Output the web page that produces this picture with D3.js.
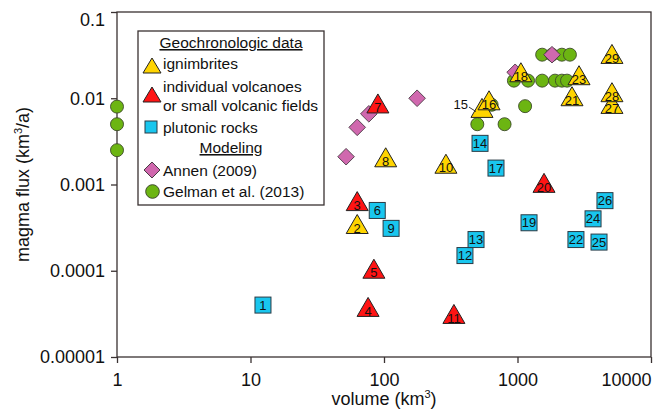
<!DOCTYPE html>
<html>
<head>
<meta charset="utf-8">
<script src="https://cdn.jsdelivr.net/npm/d3@7"></script>
<style>
	body { margin: 0 ; background: #fff ; }
	svg { display: block ; font-family: "Liberation Sans", Arial, Helvetica, sans-serif ; }
	.axis text { font-size: 18px ; fill: #111 ; }
	.axis line { stroke: #3a3232 ; stroke-width: 1.3 ; }
</style>
</head>
<body>
<svg id="chart" width="653" height="418"></svg>
<script>

// ticks
const xTicks = [ 1, 10, 100, 1000, 10000 ] ;
const xTickLabels = [ "1", "10", "100", "1000", "10000" ] ;
const yTicks = [ 0.00001, 0.0001, 0.001, 0.01, 0.1 ] ;
const yTickLabels = [ "0.00001", "0.0001", "0.001", "0.01", "0.1" ] ;

// geochronologic data : [ number, volume km3, flux km3/a ]
const ignimbrites = [
	[ 2, 63, 0.00032 ],
	[ 8, 103, 0.0019 ],
	[ 10, 291, 0.0016 ],
	[ 15, 542, 0.0071 ],
	[ 16, 612, 0.0087 ],
	[ 18, 1060, 0.0184 ],
	[ 21, 2560, 0.0097 ],
	[ 23, 2890, 0.017 ],
	[ 27, 5100, 0.0079 ],
	[ 28, 5100, 0.0108 ],
	[ 29, 5100, 0.030 ]
] ;
const volcanoes = [
	[ 3, 63, 0.00059 ],
	[ 4, 76, 0.000035 ],
	[ 5, 84, 0.000097 ],
	[ 7, 90, 0.008 ],
	[ 11, 334, 0.000029 ],
	[ 20, 1580, 0.00096 ]
] ;
const plutonic = [
	[ 1, 12.4, 0.00004 ],
	[ 6, 89, 0.0005 ],
	[ 9, 113, 0.00031 ],
	[ 12, 404, 0.00015 ],
	[ 13, 489, 0.00023 ],
	[ 14, 524, 0.003 ],
	[ 17, 690, 0.00155 ],
	[ 19, 1220, 0.00036 ],
	[ 22, 2740, 0.00023 ],
	[ 24, 3680, 0.0004 ],
	[ 25, 4080, 0.000215 ],
	[ 26, 4520, 0.00065 ]
] ;

// modeling : [ volume, flux ]
const annen = [
	[ 52, 0.0021 ], [ 63, 0.0046 ], [ 77, 0.0066 ], [ 177, 0.01 ],
	[ 960, 0.02 ], [ 1813, 0.032 ]
] ;
const gelman = [
	[ 1, 0.008 ], [ 1, 0.005 ], [ 1, 0.0025 ],
	[ 500, 0.005 ], [ 800, 0.005 ], [ 640, 0.0084 ], [ 1140, 0.0081 ],
	[ 940, 0.016 ], [ 1200, 0.016 ], [ 1530, 0.016 ], [ 1910, 0.016 ], [ 2150, 0.016 ], [ 2350, 0.016 ],
	[ 1530, 0.032 ], [ 1813, 0.032 ], [ 2150, 0.032 ], [ 2470, 0.032 ]
] ;

const colors = {
	ign: "#ffd400",
	volc: "#ff1414",
	plut: "#19c6ee",
	annen: "#d068ae",
	gelman: "#6cb512"
} ;
const edge = "#3a3232" ;

const svg = d3.select( "#chart" ) ;
const mLeft = 117, mRight = 651, mTop = 12, mBottom = 357 ;

const x = d3.scaleLog().domain( [ 1, 10000 ] ).range( [ mLeft, mRight ] ) ;
const y = d3.scaleLog().domain( [ 0.00001, 0.1 ] ).range( [ mBottom, mTop ] ) ;

// frame
svg.append( "rect" )
	.attr( "x", mLeft ).attr( "y", mTop )
	.attr( "width", mRight-mLeft ).attr( "height", mBottom-mTop )
	.attr( "fill", "none" )
	.attr( "stroke", edge )
	.attr( "stroke-width", 1.3 ) ;

const xAxis = svg.append( "g" )
	.attr( "class", "axis" )
	.attr( "transform", "translate(0," + mBottom + ")" )
	.call( d3.axisBottom( x ).tickValues( xTicks )
		.tickFormat( function(d,i) { return xTickLabels[i] ; } )
		.tickSize( 6 ).tickPadding( 10 ) ) ;
xAxis.select( ".domain" ).remove() ;
xAxis.selectAll( ".tick text" )
	.attr( "text-anchor", function(d,i) { return i===xTicks.length-1 ? "end" : "middle" ; } ) ;

const yAxis = svg.append( "g" )
	.attr( "class", "axis" )
	.attr( "transform", "translate(" + mLeft + ",0)" )
	.call( d3.axisLeft( y ).tickValues( yTicks )
		.tickFormat( function(d,i) { return yTickLabels[i] ; } )
		.tickSize( 6 ).tickPadding( 6 ) ) ;
yAxis.select( ".domain" ).remove() ;
// top label sits below its tick in the original
yAxis.selectAll( ".tick text" )
	.filter( function(d) { return d === 0.1 ; } )
	.attr( "dy", "0.74em" ) ;

// axis titles
const xTitle = svg.append( "text" )
	.attr( "x", (mLeft+mRight)/2 ).attr( "y", 405 )
	.attr( "text-anchor", "middle" )
	.style( "font-size", "18px" ).attr( "fill", "#111" ) ;
xTitle.append( "tspan" ).text( "volume (km" ) ;
xTitle.append( "tspan" ).attr( "dy", -7 ).style( "font-size", "11px" ).text( "3" ) ;
xTitle.append( "tspan" ).attr( "dy", 7 ).text( ")" ) ;

const yTitle = svg.append( "text" )
	.attr( "transform", "translate(29," + ((mTop+mBottom)/2) + ") rotate(-90)" )
	.attr( "text-anchor", "middle" )
	.style( "font-size", "18px" ).attr( "fill", "#111" ) ;
yTitle.append( "tspan" ).text( "magma flux (km" ) ;
yTitle.append( "tspan" ).attr( "dy", -7 ).style( "font-size", "11px" ).text( "3" ) ;
yTitle.append( "tspan" ).attr( "dy", 7 ).text( "/a)" ) ;

/*
	marker shapes
*/
function triPath( w, h ) {
	// centroid at origin
	return "M0," + (-h*2/3) + "L" + (w/2) + "," + (h/3) + "L" + (-w/2) + "," + (h/3) + "Z" ;
}
function diamondPath( r ) {
	return "M0," + (-r) + "L" + r + ",0L0," + r + "L" + (-r) + ",0Z" ;
}

const plot = svg.append( "g" ) ;

plot.selectAll( "circle.gelman" )
	.data( gelman )
	.enter().append( "circle" )
		.attr( "class", "gelman" )
		.attr( "cx", function(d) { return x(d[0]) ; } )
		.attr( "cy", function(d) { return y(d[1]) ; } )
		.attr( "r", 6.5 )
		.attr( "fill", colors.gelman )
		.attr( "stroke", "#3d4a2a" )
		.attr( "stroke-width", 0.9 ) ;

plot.selectAll( "path.annen" )
	.data( annen )
	.enter().append( "path" )
		.attr( "class", "annen" )
		.attr( "d", diamondPath( 8.3 ) )
		.attr( "transform", function(d) { return "translate(" + x(d[0]) + "," + y(d[1]) + ")" ; } )
		.attr( "fill", colors.annen )
		.attr( "stroke", "#4a3a44" )
		.attr( "stroke-width", 0.9 ) ;

// triangles drawn in number order so later ones sit on top
const triangles = ignimbrites.map( function(d) { return { n: d[0], v: d[1], f: d[2], c: colors.ign } ; } )
	.concat( volcanoes.map( function(d) { return { n: d[0], v: d[1], f: d[2], c: colors.volc } ; } ) )
	.sort( function(a,b) { return a.n - b.n ; } ) ;

const tri = plot.selectAll( "g.tri" )
	.data( triangles )
	.enter().append( "g" )
		.attr( "class", "tri" )
		.attr( "transform", function(d) { return "translate(" + x(d.v) + "," + y(d.f) + ")" ; } ) ;
tri.append( "path" )
	.attr( "d", triPath( 22, 19 ) )
	.attr( "fill", function(d) { return d.c ; } )
	.attr( "stroke", "#222" )
	.attr( "stroke-width", 1 ) ;
tri.append( "text" )
	.attr( "text-anchor", "middle" )
	.attr( "y", 5.5 )
	.style( "font-size", "13px" )
	.attr( "fill", "#111" )
	.text( function(d) { return d.n === 15 ? "" : d.n ; } ) ;

// label 15 sits outside with a leader line
const t15 = triangles.filter( function(d) { return d.n === 15 ; } )[0] ;
plot.append( "line" )
	.attr( "x1", x(t15.v) - 13 ).attr( "y1", y(t15.f) - 4 )
	.attr( "x2", x(t15.v) - 6 ).attr( "y2", y(t15.f) + 0.5 )
	.attr( "stroke", "#222" ).attr( "stroke-width", 0.9 ) ;
plot.append( "text" )
	.attr( "x", x(t15.v) - 14 ).attr( "y", y(t15.f) - 2 )
	.attr( "text-anchor", "end" )
	.style( "font-size", "13px" )
	.attr( "fill", "#111" )
	.text( "15" ) ;

const sq = plot.selectAll( "g.sq" )
	.data( plutonic )
	.enter().append( "g" )
		.attr( "class", "sq" )
		.attr( "transform", function(d) { return "translate(" + x(d[1]) + "," + y(d[2]) + ")" ; } ) ;
sq.append( "rect" )
	.attr( "x", -8 ).attr( "y", -8 )
	.attr( "width", 16 ).attr( "height", 16 )
	.attr( "fill", colors.plut )
	.attr( "stroke", "#2a3a44" )
	.attr( "stroke-width", 1 ) ;
sq.append( "text" )
	.attr( "text-anchor", "middle" )
	.attr( "y", 4.5 )
	.style( "font-size", "13px" )
	.attr( "fill", "#111" )
	.text( function(d) { return d[0] ; } ) ;

/*
	legend
*/
const lg = svg.append( "g" ) ;
lg.append( "rect" )
	.attr( "x", 138 ).attr( "y", 31 )
	.attr( "width", 186 ).attr( "height", 174 )
	.attr( "fill", "#fff" )
	.attr( "stroke", edge )
	.attr( "stroke-width", 1.3 ) ;

const legendText = [
	{ t: "Geochronologic data", y: 48, head: true },
	{ t: "ignimbrites", y: 69 },
	{ t: "individual volcanoes", y: 92 },
	{ t: "or small volcanic fields", y: 111 },
	{ t: "plutonic rocks", y: 133 },
	{ t: "Modeling", y: 153, head: true },
	{ t: "Annen (2009)", y: 176 },
	{ t: "Gelman et al. (2013)", y: 197 }
] ;
lg.selectAll( "text" )
	.data( legendText )
	.enter().append( "text" )
		.attr( "x", function(d) { return d.head ? 231 : 163 ; } )
		.attr( "y", function(d) { return d.y ; } )
		.attr( "text-anchor", function(d) { return d.head ? "middle" : "start" ; } )
		.style( "text-decoration", function(d) { return d.head ? "underline" : null ; } )
		.style( "font-size", "15.5px" )
		.attr( "fill", "#111" )
		.text( function(d) { return d.t ; } ) ;

lg.append( "path" )
	.attr( "d", triPath( 18, 15 ) )
	.attr( "transform", "translate(152,68)" )
	.attr( "fill", colors.ign ).attr( "stroke", "#222" ) ;
lg.append( "path" )
	.attr( "d", triPath( 18, 15 ) )
	.attr( "transform", "translate(152,97)" )
	.attr( "fill", colors.volc ).attr( "stroke", "#222" ) ;
lg.append( "rect" )
	.attr( "x", 145 ).attr( "y", 121 )
	.attr( "width", 12 ).attr( "height", 12 )
	.attr( "fill", colors.plut ).attr( "stroke", "#2a3a44" ) ;
lg.append( "path" )
	.attr( "d", diamondPath( 8 ) )
	.attr( "transform", "translate(152,170)" )
	.attr( "fill", colors.annen ).attr( "stroke", "#4a3a44" ) ;
lg.append( "circle" )
	.attr( "cx", 152.5 ).attr( "cy", 191.5 ).attr( "r", 6.8 )
	.attr( "fill", colors.gelman ).attr( "stroke", "#3d4a2a" ) ;

</script>
</body>
</html>
